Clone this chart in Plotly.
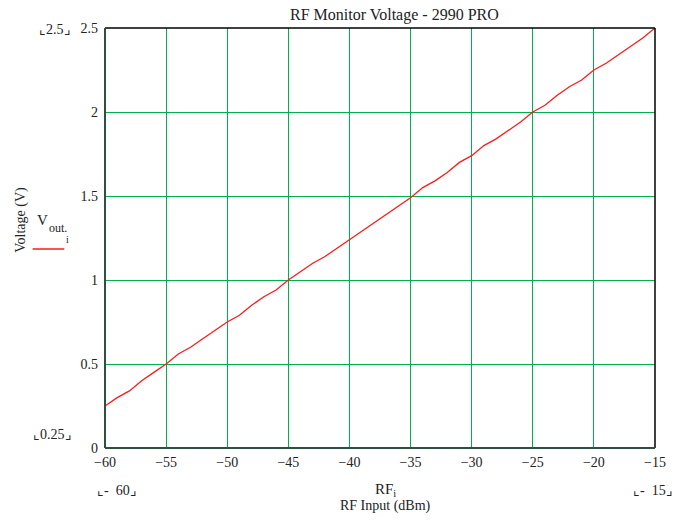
import plotly.graph_objects as go

rf_dbm = [-60, -59, -58, -57, -56, -55, -54, -53, -52, -51, -50, -49, -48, -47, -46,
          -45, -44, -43, -42, -41, -40, -39, -38, -37, -36, -35, -34, -33, -32, -31,
          -30, -29, -28, -27, -26, -25, -24, -23, -22, -21, -20, -19, -18, -17, -16, -15]
v_out = [0.25, 0.30, 0.34, 0.40, 0.45, 0.50, 0.56, 0.60, 0.65, 0.70, 0.75, 0.79, 0.85, 0.90, 0.94,
         1.00, 1.05, 1.10, 1.14, 1.19, 1.24, 1.29, 1.34, 1.39, 1.44, 1.49, 1.55, 1.59, 1.64, 1.70,
         1.74, 1.80, 1.84, 1.89, 1.94, 2.00, 2.04, 2.10, 2.15, 2.19, 2.25, 2.29, 2.34, 2.39, 2.44, 2.50]
x_ticks = [-60, -55, -50, -45, -40, -35, -30, -25, -20, -15]
y_ticks = [0, 0.5, 1, 1.5, 2, 2.5]
y_tick_text = ["0", "0.5", "1", "1.5", "2", "2.5"]

W, H = 678, 522
L, R, T, B = 105, 660, 28, 448
FONT = "Liberation Serif, Times New Roman, serif"

def px(x):
    return (x - L) / (R - L)

def py(y):
    return (B - y) / (B - T)

fig = go.Figure()
fig.add_trace(go.Scatter(x=rf_dbm, y=v_out, mode="lines",
                         line=dict(color="#ff1a1a", width=1.3), showlegend=False,
                         name="V out_i"))

grid = "#00b050"
fig.update_layout(
    width=W, height=H,
    margin=dict(l=L, r=W - R, t=T, b=H - B),
    paper_bgcolor="white", plot_bgcolor="white",
    font=dict(family=FONT, size=14, color="#222"),
    title=dict(text="RF Monitor Voltage - 2990 PRO", xref="paper", x=px(397), xanchor="center",
               yref="container", y=1 - 14 / H, yanchor="middle",
               font=dict(size=16, family=FONT, color="#222")),
    xaxis=dict(range=[-60, -15], tickvals=x_ticks, showgrid=True, gridcolor=grid, gridwidth=1.3,
               zeroline=False, showline=False, ticks="", tickfont=dict(size=14, family=FONT),
               ticklabelstandoff=4),
    yaxis=dict(range=[0, 2.5], tickvals=y_ticks, ticktext=y_tick_text, showgrid=True,
               gridcolor=grid, gridwidth=1.3, zeroline=False, showline=False, ticks="",
               tickfont=dict(size=14, family=FONT), ticklabelstandoff=6),
)

# frame
fig.add_shape(type="line", xref="paper", yref="paper", x0=0, x1=1, y0=1, y1=1,
              line=dict(color="black", width=1.5))
fig.add_shape(type="line", xref="paper", yref="paper", x0=1, x1=1, y0=0, y1=1,
              line=dict(color="black", width=1.5))
fig.add_shape(type="line", xref="paper", yref="paper", x0=0, x1=0, y0=0, y1=1,
              line=dict(color="#2f4f40", width=2))
fig.add_shape(type="line", xref="paper", yref="paper", x0=0, x1=1, y0=0, y1=0,
              line=dict(color="#2f4f40", width=2))

def ann(text, x, y, size=14, xanchor="center", **kw):
    fig.add_annotation(text=text, xref="paper", yref="paper", x=px(x), y=py(y),
                       xanchor=xanchor, yanchor="middle", showarrow=False,
                       font=dict(size=size, family=FONT, color="#222"), **kw)

ann("⌞2.5⌟", 73, 30, xanchor="right")
ann("⌞0.25⌟", 74, 434, xanchor="right")
ann("⌞-  60⌟", 117, 490)
ann("⌞-  15⌟", 680, 490, xanchor="right")
ann("RF<sub>i</sub>", 388, 490, size=15)
ann("RF Input (dBm)", 388, 506)
ann("Voltage (V)", 20, 220, textangle=-90)
ann("V", 42, 220, size=15)
ann("out.", 58, 228, size=12)
ann("i", 67, 239, size=10)

fig.add_shape(type="line", xref="paper", yref="paper", x0=px(32), x1=px(64), y0=py(249), y1=py(249),
              line=dict(color="#ff1a1a", width=1.3))

fig.write_html("out.html", config={"displayModeBar": False},
               post_script="document.body.style.margin='0';document.body.style.overflow='hidden';")
